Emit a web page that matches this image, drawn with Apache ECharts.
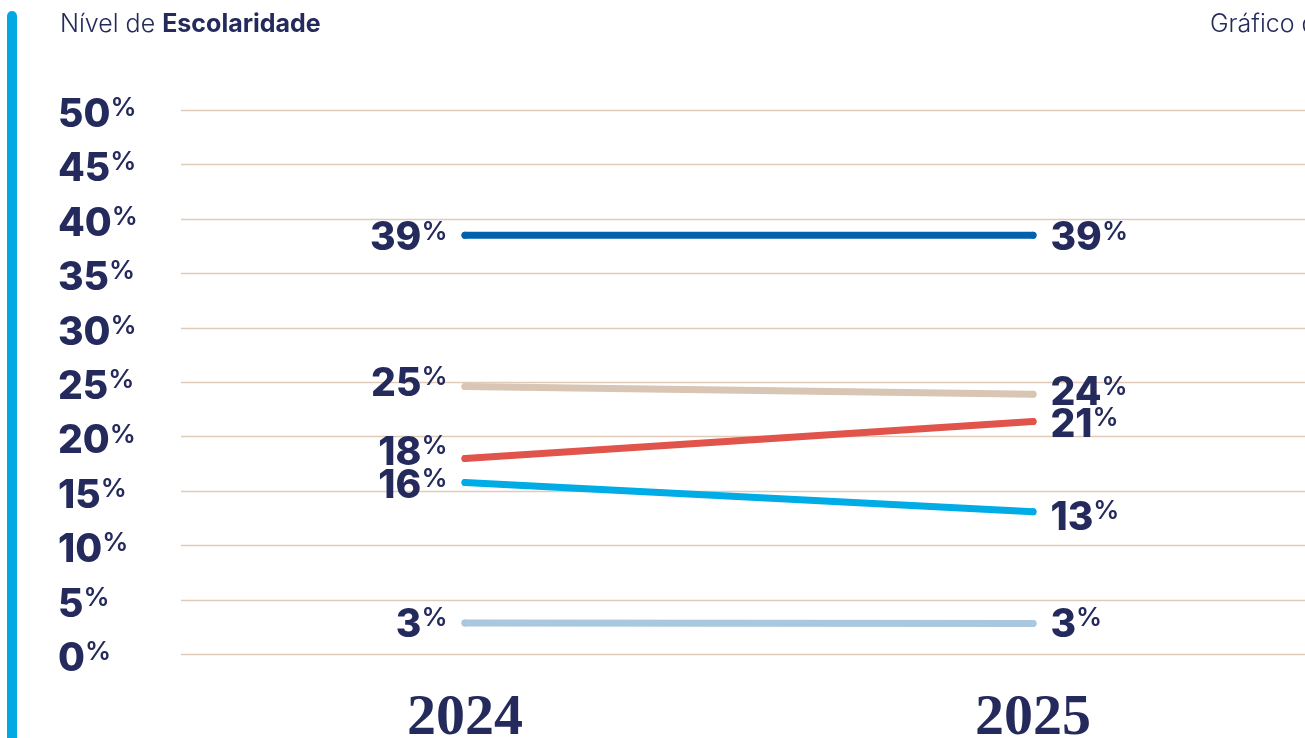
<!DOCTYPE html>
<html>
<head>
<meta charset="utf-8">
<script src="https://cdn.jsdelivr.net/npm/echarts@6/dist/echarts.min.js"></script>
<style>
html,body{margin:0;padding:0;background:#fff;}
#c{width:1305px;height:738px;}
</style>
</head>
<body>
<div id="c"></div>
<script>
const years = ['2024', '2025'];
const seriesNames = ['A', 'B', 'C', 'D', 'E'];
const valuesA = [38.5, 38.5];
const valuesB = [24.6, 23.9];
const valuesC = [18.0, 21.4];
const valuesD = [15.8, 13.1];
const valuesE = [2.9, 2.85];
const yTicks = [0, 5, 10, 15, 20, 25, 30, 35, 40, 45, 50];

const navy = '#252a5c';
const colors = ['#0062ad', '#d9c5b3', '#e0544b', '#00ace6', '#a9c8dd'];
// label vertical offsets (px) to avoid overlaps, [left, right]
const offsets = [[3.5, 3.5], [-2, -0.5], [-5, 3.5], [3.5, 6], [2, 2]];
const allValues = [valuesA, valuesB, valuesC, valuesD, valuesE];

const labelRich = {
  n: { fontFamily: 'Inter', fontWeight: 800, fontSize: 39, color: navy, lineHeight: 40 },
  p: { fontFamily: 'Inter', fontWeight: 600, fontSize: 26, color: navy, lineHeight: 22, verticalAlign: 'top' }
};

const chart = echarts.init(document.getElementById('c'));
const series = allValues.map((vals, i) => ({
  name: seriesNames[i],
  type: 'line',
  data: vals.map((v, j) => ({
    value: v,
    label: {
      show: true,
      position: j === 0 ? 'left' : 'right',
      distance: 14,
      offset: [0, offsets[i][j]],
      formatter: p => '{n|' + Math.round(p.value) + '}{p|%}',
      rich: labelRich
    }
  })),
  symbol: 'circle',
  symbolSize: 7,
  showSymbol: true,
  itemStyle: { color: colors[i], borderWidth: 0 },
  lineStyle: { color: colors[i], width: 7, cap: 'round' },
  emphasis: { disabled: true },
  z: 10 - i
}));

chart.setOption({
  animation: false,
  title: [{
    text: '{a|Nível de }{b|Escolaridade}',
    left: 55, top: 7,
    textStyle: {
      rich: {
        a: { fontFamily: 'Inter', fontWeight: 300, fontSize: 25, color: navy },
        b: { fontFamily: 'Inter', fontWeight: 700, fontSize: 25, color: navy }
      }
    }
  }, {
    text: 'Gráfico de Linhas',
    left: 1205, top: 7,
    textStyle: { fontFamily: 'Inter', fontWeight: 300, fontSize: 25, color: navy }
  }],
  graphic: [{
    type: 'rect',
    shape: { x: 7, y: 11, width: 10, height: 740, r: 5 },
    style: { fill: '#00a9e4' }
  }],
  grid: { left: 181, top: 110, bottom: 83.5, width: 1136, containLabel: false, outerBoundsMode: 'none' },
  xAxis: {
    type: 'category',
    data: years,
    boundaryGap: true,
    axisLine: { show: false },
    axisTick: { show: false },
    axisLabel: {
      margin: 36,
      fontFamily: 'Liberation Serif',
      fontWeight: 'bold',
      fontSize: 58,
      color: navy
    }
  },
  yAxis: {
    type: 'value',
    min: 0, max: 50, interval: 5,
    axisLine: { show: false },
    axisTick: { show: false },
    splitLine: { lineStyle: { color: '#e0cbb9', width: 1.3 } },
    axisLabel: {
      align: 'left',
      margin: 123,
      padding: [10, 0, 0, 0],
      formatter: v => yTicks.indexOf(v) >= 0 ? '{n|' + v + '}{p|%}' : '',
      rich: labelRich
    }
  },
  series: series
});
</script>
</body>
</html>
